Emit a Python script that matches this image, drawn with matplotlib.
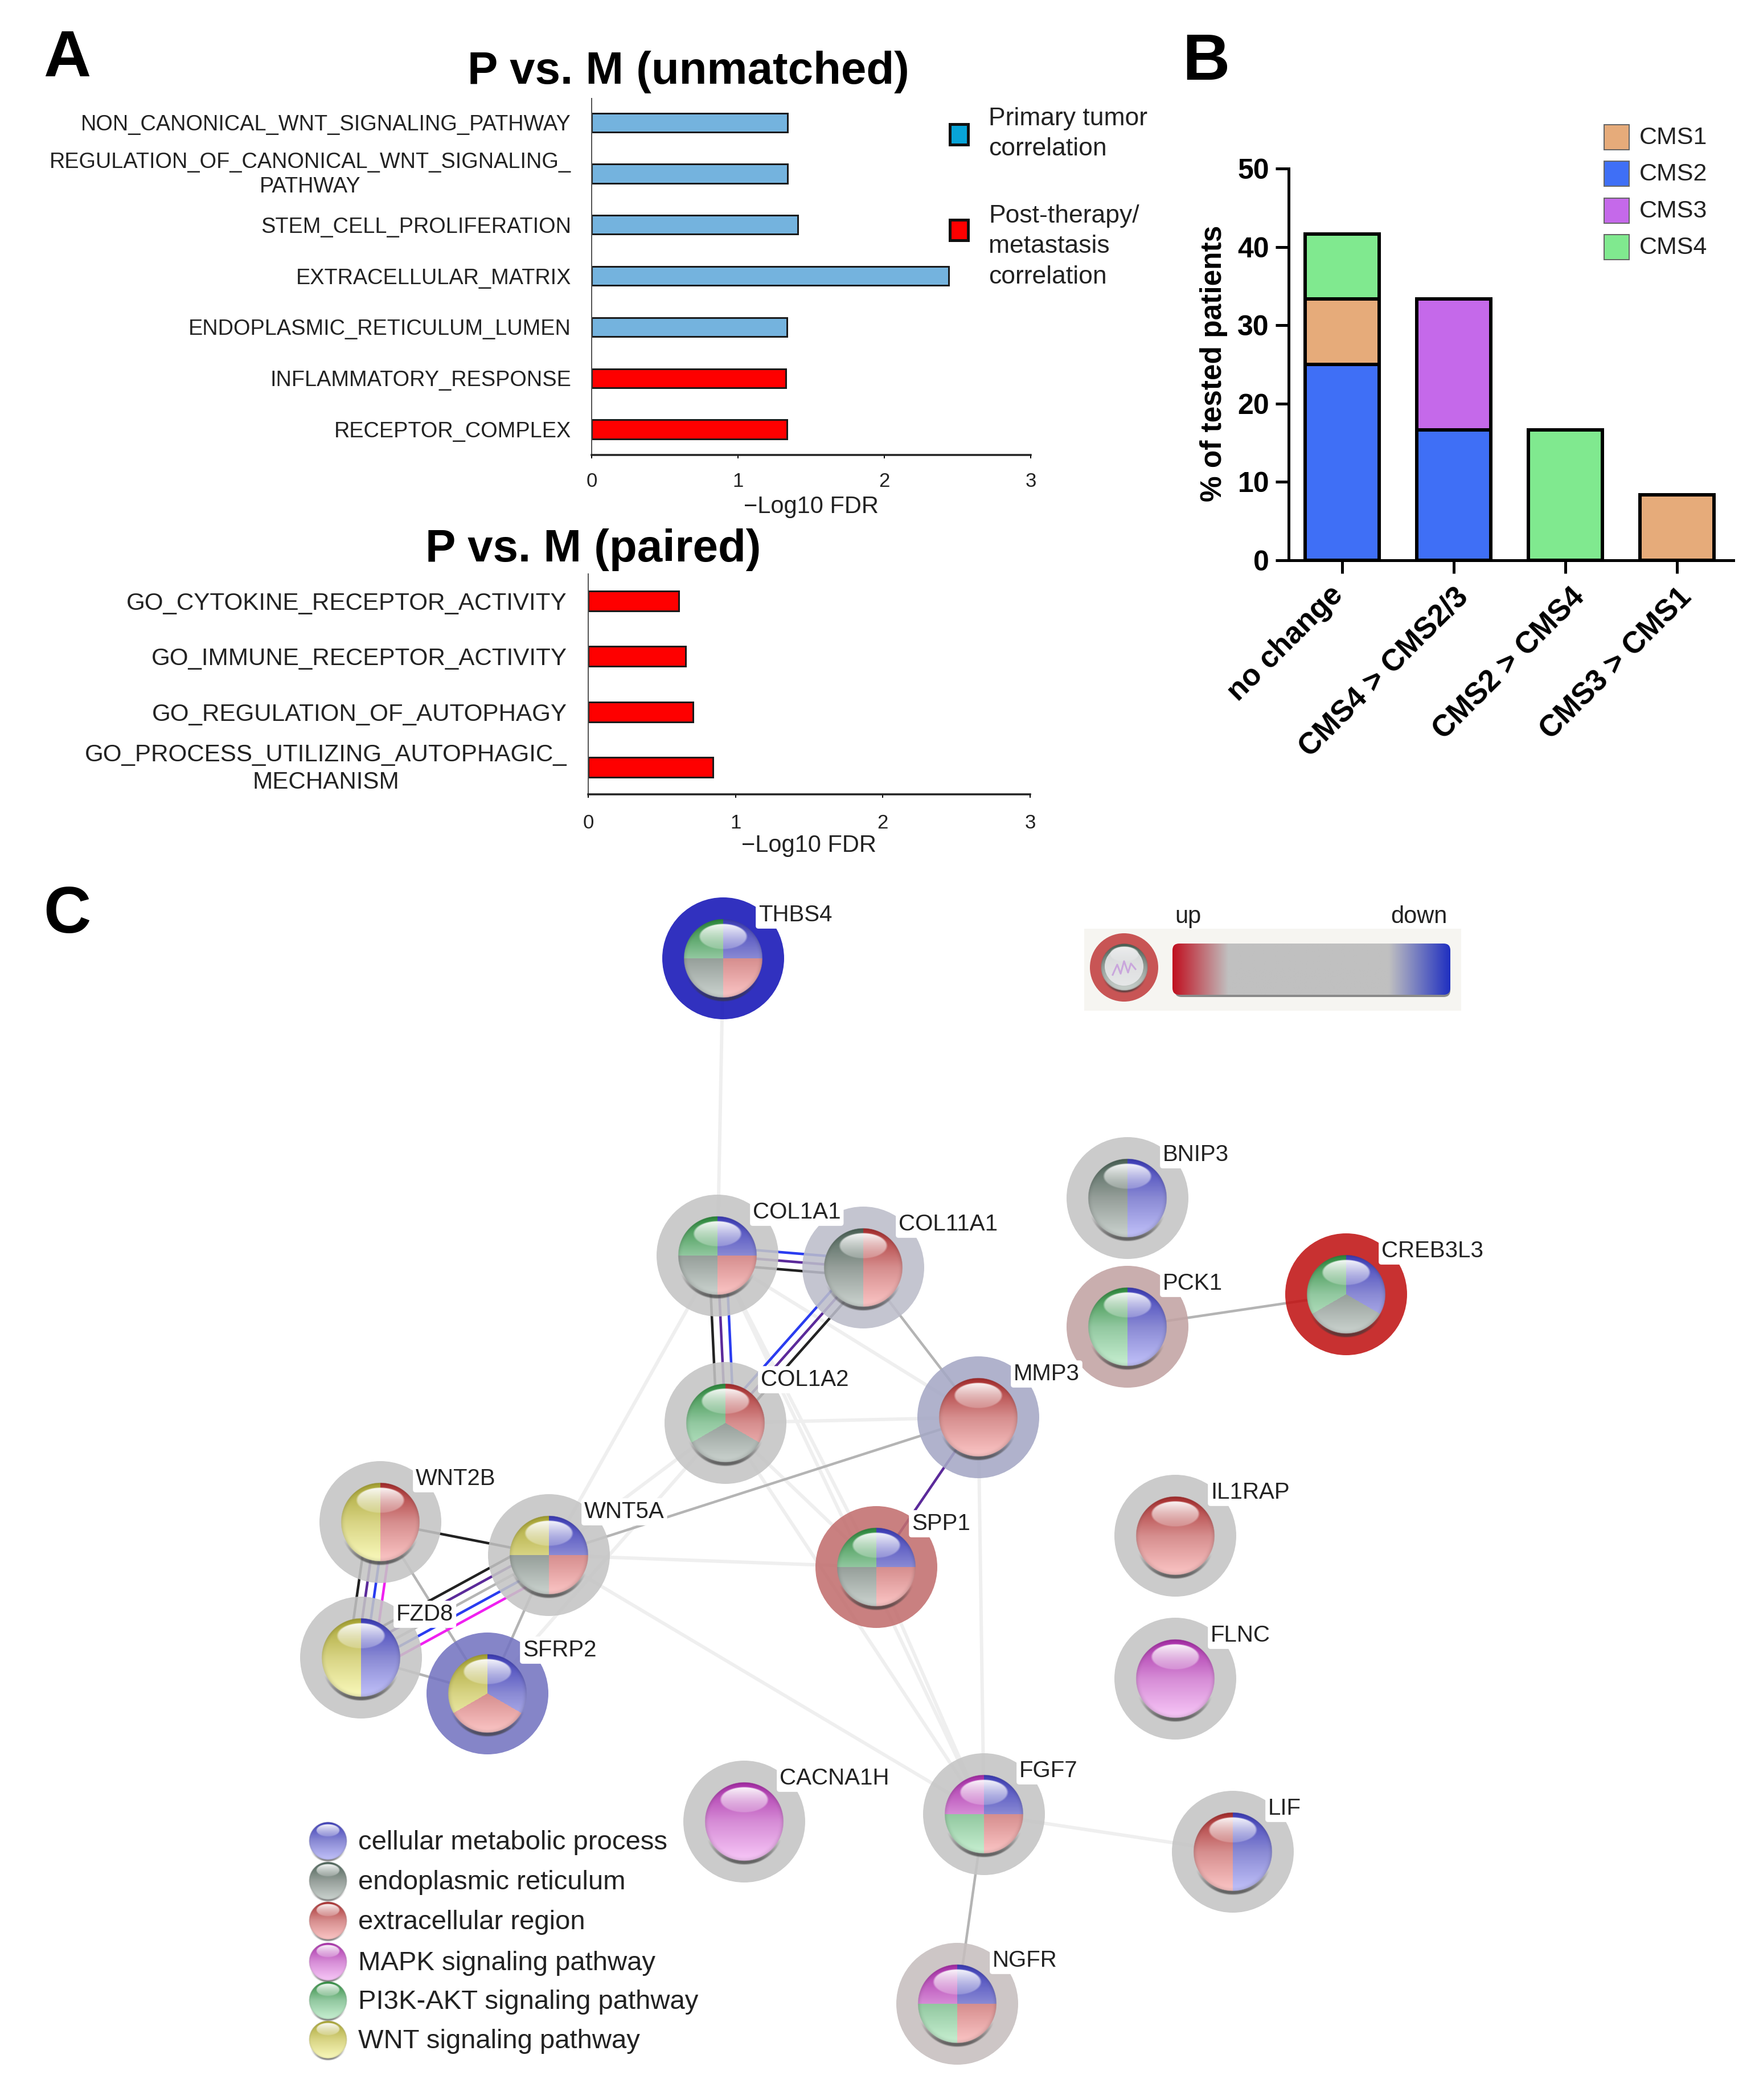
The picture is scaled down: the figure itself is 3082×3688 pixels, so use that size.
import numpy as np
import matplotlib
matplotlib.use("Agg")
import matplotlib.pyplot as plt
from matplotlib.patches import Circle, Rectangle, FancyBboxPatch
from matplotlib.colors import to_rgb
from matplotlib.transforms import ScaledTranslation

plt.rcParams['font.family'] = ['Liberation Sans', 'DejaVu Sans']

W, H = 3082, 3688
PX = 0.72  # points per pixel at dpi 100

# panel A, unmatched
unmatched_terms = ["NON_CANONICAL_WNT_SIGNALING_PATHWAY", "REGULATION_OF_CANONICAL_WNT_SIGNALING_\nPATHWAY",
                   "STEM_CELL_PROLIFERATION", "EXTRACELLULAR_MATRIX", "ENDOPLASMIC_RETICULUM_LUMEN",
                   "INFLAMMATORY_RESPONSE", "RECEPTOR_COMPLEX"]
unmatched_fdr = [1.34, 1.34, 1.41, 2.44, 1.335, 1.325, 1.335]
unmatched_colors = ["#74b3de"] * 5 + ["#fe0000"] * 2

# panel A, paired
paired_terms = ["GO_CYTOKINE_RECEPTOR_ACTIVITY", "GO_IMMUNE_RECEPTOR_ACTIVITY", "GO_REGULATION_OF_AUTOPHAGY",
                "GO_PROCESS_UTILIZING_AUTOPHAGIC_\nMECHANISM"]
paired_fdr = [0.615, 0.66, 0.71, 0.845]

# panel B
transitions = ["no change", "CMS4 > CMS2/3", "CMS2 > CMS4", "CMS3 > CMS1"]
cms2 = [25.0, 16.67, 0, 0]
cms1 = [8.33, 0, 0, 8.33]
cms3 = [0, 16.67, 0, 0]
cms4 = [8.33, 0, 16.67, 0]
cms_colors = {"CMS1": "#e6ab7a", "CMS2": "#3f6ff6", "CMS3": "#c569ea", "CMS4": "#80e98f"}

# panel C, network (pixels)
node_names = ["THBS4", "COL1A1", "COL11A1", "COL1A2", "MMP3", "BNIP3", "PCK1", "CREB3L3", "IL1RAP", "FLNC",
              "WNT2B", "WNT5A", "FZD8", "SFRP2", "SPP1", "CACNA1H", "FGF7", "NGFR", "LIF"]
node_x = [1270, 1260, 1516, 1274, 1718, 1980, 1980, 2364, 2064, 2064,
          668, 964, 634, 856, 1539, 1307, 1728, 1681, 2165]
node_y = [1683, 2205, 2226, 2499, 2489, 2104, 2330, 2273, 2697, 2948,
          2673, 2731, 2911, 2974, 2752, 3199, 3186, 3519, 3252]
node_halo = ["#3030c0", "#cbcbcb", "#c4c5d0", "#cbcbcb", "#b0b2cc", "#cbcbcb", "#c9aeae", "#c83030", "#cbcbcb",
             "#cbcbcb", "#cbcbcb", "#cbcbcb", "#cbcbcb", "#8585c8", "#c98080", "#cbcbcb", "#cbcbcb", "#cdc6c6",
             "#cbcbcb"]
# sectors run clockwise from 12 o'clock
node_terms = [["met", "ext", "er", "pi3k"], ["met", "ext", "er", "pi3k"], ["ext", "er"], ["ext", "er", "pi3k"],
              ["ext"], ["met", "er"], ["met", "pi3k"], ["met", "er", "pi3k"], ["ext"], ["mapk"],
              ["ext", "wnt"], ["met", "ext", "er", "wnt"], ["met", "wnt"], ["met", "ext", "wnt"],
              ["met", "ext", "er", "pi3k"], ["mapk"], ["met", "ext", "pi3k", "mapk"], ["met", "ext", "pi3k", "mapk"],
              ["met", "ext"]]

term_ramps = {"met": ["#3c3cb8", "#8a8ad4", "#c2c2fa"],
              "er": ["#4a6256", "#969f9a", "#ccd4d0"],
              "ext": ["#a82c2c", "#d68e8e", "#fcc6c6"],
              "mapk": ["#a82ca8", "#d68cd6", "#f8c8f8"],
              "pi3k": ["#2c8a3c", "#92c8a0", "#c8f0d2"],
              "wnt": ["#a8a432", "#d8d484", "#fafabc"]}
legend_terms = ["met", "er", "ext", "mapk", "pi3k", "wnt"]
legend_labels = ["cellular metabolic process", "endoplasmic reticulum", "extracellular region",
                 "MAPK signaling pathway", "PI3K-AKT signaling pathway", "WNT signaling pathway"]
legend_y = [3233, 3303, 3373, 3445, 3513, 3582]

LIGHT, GRAY = "#efefef", "#b4b4b4"
BLK, PUR, BLU, MAG = "#222222", "#5b2a9a", "#2a3cf0", "#f020f0"
light_edges = [("THBS4", "COL1A1"), ("COL1A1", "MMP3"), ("COL1A1", "SPP1"), ("COL1A2", "SPP1"), ("COL1A1", "WNT5A"),
               ("COL1A2", "MMP3"), ("COL1A2", "WNT5A"), ("COL1A2", "SFRP2"), ("COL1A1", "FGF7"), ("COL1A2", "FGF7"),
               ("SPP1", "FGF7"), ("MMP3", "FGF7"), ("WNT5A", "SPP1"), ("WNT5A", "FGF7"), ("FGF7", "LIF")]
gray_edges = [("COL11A1", "MMP3"), ("PCK1", "CREB3L3"), ("MMP3", "WNT5A"), ("FGF7", "NGFR"), ("WNT2B", "SFRP2"),
              ("WNT5A", "SFRP2"), ("FZD8", "SFRP2")]
multi_edges = [("COL1A1", "COL11A1", [BLK, PUR, BLU]), ("COL1A1", "COL1A2", [BLK, PUR, BLU]),
               ("COL11A1", "COL1A2", [BLU, PUR, BLK]), ("WNT2B", "FZD8", [BLK, PUR, BLU, MAG]),
               ("WNT5A", "FZD8", [BLK, PUR, GRAY, BLU, MAG]), ("WNT2B", "WNT5A", [BLK]), ("MMP3", "SPP1", [PUR])]


def px_axes(fig, left, top, right, bottom):
    ax = fig.add_axes([left / W, 1 - bottom / H, (right - left) / W, (bottom - top) / H])
    ax.set_facecolor('none')
    return ax


def nudge(lab, dx, dy):
    # shift a tick label by pixels, y upwards
    lab.set_transform(lab.get_transform() + ScaledTranslation(dx / 100, dy / 100, fig.dpi_scale_trans))


def sphere_rgba(R, terms):
    n = int(2.4 * R)
    g = np.linspace(-1.2, 1.2, n)
    x, y = np.meshgrid(g, g)
    r = np.hypot(x, y)
    t = np.clip((y + 1) / 2, 0, 1)
    ang = np.degrees(np.arctan2(x, -y)) % 360
    idx = np.minimum((ang / (360 / len(terms))).astype(int), len(terms) - 1)
    rgb = np.zeros((n, n, 3))
    for i, term in enumerate(terms):
        ramp = np.array([to_rgb(c) for c in term_ramps[term]])
        for c in range(3):
            vals = np.interp(t, [0.0, 0.5, 1.0], ramp[:, c])
            rgb[..., c][idx == i] = vals[idx == i]
    # darker rim
    rgb *= (1 - 0.15 * np.clip((r - 0.86) / 0.14, 0, 1) ** 2)[..., None]
    # shine at the top
    e = (x / 0.62) ** 2 + ((y + 0.55) / 0.33) ** 2
    shine = np.clip((1 - e) * 6, 0, 1) * np.clip(0.95 - 0.75 * (y + 0.87) / 0.64, 0, 1)
    rgb = rgb * (1 - shine[..., None]) + shine[..., None]
    a_sphere = np.clip((1 - r) * R / 1.5, 0, 1)
    # dark crescent under the ball
    r2 = np.hypot(x, y - 0.08)
    a_shadow = np.clip((1.02 - r2) * R / 3, 0, 1) * np.clip((y - 0.45) / 0.55, 0, 1) * 0.7
    alpha = a_sphere + a_shadow * (1 - a_sphere)
    out = np.zeros((n, n, 4))
    dark = np.array(to_rgb("#383838"))
    safe = np.maximum(alpha, 1e-6)[..., None]
    out[..., :3] = (rgb * a_sphere[..., None] + dark * (a_shadow * (1 - a_sphere))[..., None]) / safe
    out[..., 3] = alpha
    return out


def draw_sphere(ax, cx, cy, R, terms, z=4):
    ax.imshow(sphere_rgba(R, terms), extent=(cx - 1.2 * R, cx + 1.2 * R, cy + 1.2 * R, cy - 1.2 * R),
              aspect='auto', interpolation='bilinear', zorder=z)


def hbars(ax, terms, vals, colors, height, pad, size):
    ys = np.arange(len(terms))
    ax.barh(ys, vals, height=height, color=colors, edgecolor="#1a1a1a", linewidth=3 * PX)
    ax.set_xlim(0, 3)
    ax.set_xticks([0, 1, 2, 3])
    ax.set_yticks(ys)
    ax.set_yticklabels(terms, fontsize=size, color="#222222", linespacing=1.25)
    ax.tick_params(axis='y', length=0, pad=pad)
    for lab in ax.get_yticklabels():
        lab.set_multialignment('center')
        if "\n" in lab.get_text():
            nudge(lab, 0, 6)
    ax.spines['top'].set_visible(False)
    ax.spines['right'].set_visible(False)
    ax.spines['left'].set_linewidth(2 * PX)
    ax.spines['left'].set_color("#555555")
    ax.spines['bottom'].set_linewidth(3.5 * PX)
    ax.spines['bottom'].set_color("#222222")


fig = plt.figure(figsize=(W / 100, H / 100), dpi=100, facecolor="white")

# overlay in picture pixels for the network and free text
net = fig.add_axes([0, 0, 1, 1], zorder=0)
net.axis('off')

# --- A
ax1 = px_axes(fig, 1039, 173, 1810, 799)
hbars(ax1, unmatched_terms, unmatched_fdr, unmatched_colors, 0.37, 26, 27.3)
ax1.set_ylim(6.5, -0.47)
ax1.tick_params(axis='x', length=6 * PX, width=2 * PX, labelsize=25, pad=17, labelcolor="#222222")
ax1.set_xlabel("\u2212Log10 FDR", fontsize=30, color="#222222", labelpad=6)

ax2 = px_axes(fig, 1033, 1008, 1809, 1395)
hbars(ax2, paired_terms, paired_fdr, ["#fe0000"] * 4, 0.36, 27, 30.3)
ax2.set_ylim(3.49, -0.49)
ax2.tick_params(axis='x', length=6 * PX, width=2 * PX, labelsize=25, pad=20, labelcolor="#222222")
ax2.set_xlabel("\u2212Log10 FDR", fontsize=30, color="#222222", labelpad=2)

net.text(1209, 127, "P vs. M (unmatched)", fontsize=57.5, fontweight='bold', ha='center', va='center')
net.text(1042, 965, "P vs. M (paired)", fontsize=57.5, fontweight='bold', ha='center', va='center')
net.text(76, 134, "A", fontsize=83, fontweight='bold', va='baseline')
net.text(2076, 140, "B", fontsize=83, fontweight='bold', va='baseline')
net.text(76, 1638, "C", fontsize=83, fontweight='bold', va='baseline')

for cy, col, lab in [(236, "#08a4d8", "Primary tumor\ncorrelation"),
                     (404, "#fe0000", "Post-therapy/\nmetastasis\ncorrelation")]:
    net.add_patch(Rectangle((1668, cy - 18), 32, 36, facecolor=col, edgecolor="#111111", linewidth=5 * PX))
    net.text(1736, cy + (29 if col == "#fe0000" else -1), lab, fontsize=32, color="#222222", va='center',
             linespacing=1.4)

# --- B
ax3 = px_axes(fig, 2263, 296, 3044, 984)
xs = np.arange(len(transitions))
bottom = np.zeros(len(transitions))
for name, vals in [("CMS2", cms2), ("CMS1", cms1), ("CMS3", cms3), ("CMS4", cms4)]:
    vals = np.array(vals, dtype=float)
    keep = vals > 0
    ax3.bar(xs[keep], vals[keep], bottom=bottom[keep], width=0.665, color=cms_colors[name],
            edgecolor="black", linewidth=6 * PX)
    bottom += vals
ax3.set_xlim(-0.48, 3.505)
ax3.set_ylim(0, 50)
ax3.set_yticks([0, 10, 20, 30, 40, 50])
ax3.set_xticks(xs)
ax3.set_xticklabels(transitions, rotation=45, ha='right', rotation_mode='anchor', fontsize=38, fontweight='bold')
ax3.set_yticklabels(["0", "10", "20", "30", "40", "50"], fontsize=36, fontweight='bold')
ax3.tick_params(axis='both', length=23 * PX, width=5 * PX)
ax3.tick_params(axis='x', pad=12)
ax3.tick_params(axis='y', pad=8)
ax3.spines['top'].set_visible(False)
ax3.spines['right'].set_visible(False)
ax3.spines['left'].set_linewidth(5 * PX)
ax3.spines['bottom'].set_linewidth(5 * PX)
xlabs = ax3.get_xticklabels()
nudge(xlabs[0], -24, 4)
nudge(xlabs[2], 8, 0)
net.text(2132, 638, "% of tested patients", rotation=90, fontsize=37, fontweight='bold', ha='center', va='center')

for cy, name in zip([241, 305, 370, 434], ["CMS1", "CMS2", "CMS3", "CMS4"]):
    net.add_patch(Rectangle((2817, cy - 22), 44, 44, facecolor=cms_colors[name], edgecolor="#666666",
                            linewidth=2 * PX))
    net.text(2879, cy + 1, name, fontsize=31, color="#222222", va='center')

# --- C
pos = {n: (x, y) for n, x, y in zip(node_names, node_x, node_y)}


def edge(a, b, colors, lw, gap=15):
    (x0, y0), (x1, y1) = pos[a], pos[b]
    d = np.array([x1 - x0, y1 - y0], dtype=float)
    d /= np.hypot(*d)
    nrm = np.array([d[1], -d[0]])
    offs = (np.arange(len(colors)) - (len(colors) - 1) / 2) * gap
    for c, o in zip(colors, offs):
        net.plot([x0 + nrm[0] * o, x1 + nrm[0] * o], [y0 + nrm[1] * o, y1 + nrm[1] * o], color=c,
                 lw=lw * PX, solid_capstyle='butt', zorder=1)


for a, b in light_edges:
    edge(a, b, [LIGHT], 6)
for a, b in gray_edges:
    edge(a, b, [GRAY], 4.5)
for a, b, cols in multi_edges:
    edge(a, b, cols, 4.5)

for name, x, y, halo, terms in zip(node_names, node_x, node_y, node_halo, node_terms):
    # slightly see-through so the edges show faintly under the halo
    c = np.clip((np.array(to_rgb(halo)) - 0.12) / 0.88, 0, 1)
    net.add_patch(Circle((x, y), 107, facecolor=c, alpha=0.88, edgecolor='none', zorder=2))
    net.text(x + 62, y - 76, name, fontsize=29, color="#222222", va='center', zorder=3,
             bbox=dict(facecolor='white', edgecolor='none', pad=3, boxstyle='round,pad=0.12'))
    draw_sphere(net, x, y, 70, terms)

for term, lab, y in zip(legend_terms, legend_labels, legend_y):
    draw_sphere(net, 576, y, 34, [term])
    net.text(629, y + 3, lab, fontsize=34, color="#222222", va='center')

# colour key
net.add_patch(Rectangle((1904, 1631), 662, 144, facecolor="#f6f5f1", edgecolor='none', zorder=1))
net.add_patch(Circle((1974, 1699), 60, facecolor="#c85555", edgecolor='none', zorder=2))
draw_sphere(net, 1974, 1699, 42, ["er"])
net.add_patch(Circle((1974, 1697), 34, facecolor="#ececee", edgecolor='none', alpha=0.85, zorder=5))
net.plot([1954, 1962, 1968, 1974, 1981, 1986, 1994], [1712, 1694, 1710, 1688, 1708, 1692, 1702],
         color="#c9a6dc", lw=3 * PX, zorder=6)
key_colors = ["#c01020", "#c0c0c0", "#c0c0c0", "#2030c0"]
key_stops = [0.0, 0.2, 0.78, 1.0]
t = np.linspace(0, 1, 256)
key_rgb = np.array([np.interp(t, key_stops, [to_rgb(c)[i] for c in key_colors]) for i in range(3)]).T[None, :, :]
net.add_patch(FancyBboxPatch((2063, 1663), 484, 88, boxstyle='round,pad=0,rounding_size=12',
                             facecolor="#8a8a8a", edgecolor='none', zorder=2))
key_img = net.imshow(key_rgb, extent=(2059, 2547, 1749, 1657), aspect='auto', zorder=3)
key_clip = FancyBboxPatch((2059, 1657), 488, 90, boxstyle='round,pad=0,rounding_size=12',
                          facecolor='none', edgecolor='none', transform=net.transData)
net.add_patch(key_clip)
key_img.set_clip_path(key_clip)
net.text(2086, 1610, "up", fontsize=30, color="#222222", ha='center', va='center')
net.text(2492, 1610, "down", fontsize=30, color="#222222", ha='center', va='center')

net.set_xlim(0, W)
net.set_ylim(H, 0)

fig.savefig("out.png", dpi=100, facecolor="white")
